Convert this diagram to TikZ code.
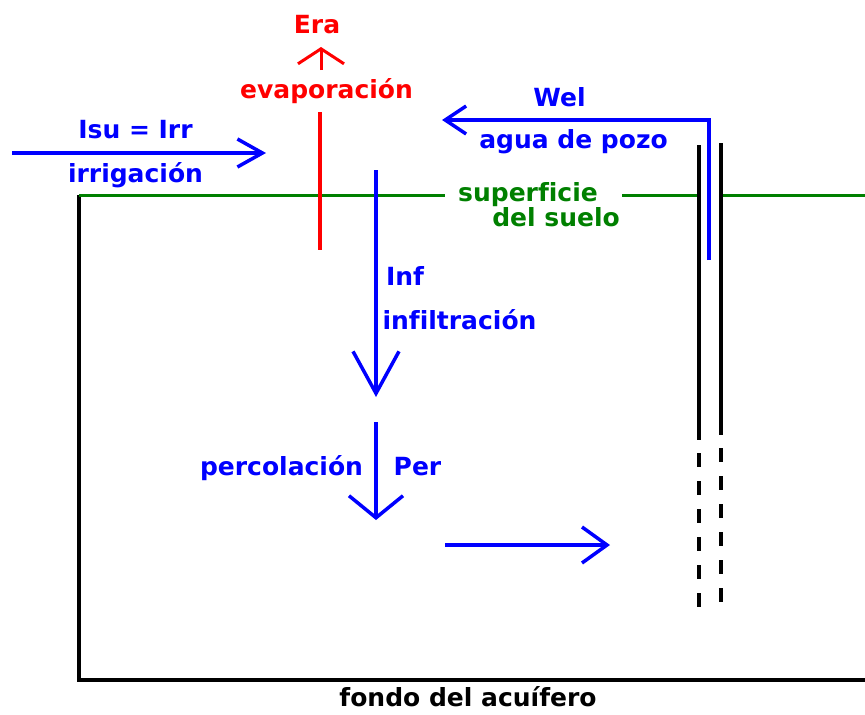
\documentclass[tikz,border=0pt]{standalone}
\usepackage{fontspec}
\setmainfont{DejaVu Sans}[Ligatures=NoCommon]
\usetikzlibrary{arrows.meta}
\definecolor{pblue}{RGB}{0,0,255}
\definecolor{pred}{RGB}{255,0,0}
\definecolor{pgreen}{RGB}{0,128,0}
\tikzset{
  lbl/.style={font=\fontsize{25}{30}\selectfont\bfseries, inner sep=0pt, anchor=base},
  flow/.style={draw=pblue, line width=3.5pt},
  ground/.style={draw=black, line width=3.5pt},
  soil/.style={draw=pgreen, line width=3pt},
  casing/.style={draw=black, line width=4.5pt},
  casingdash/.style={draw=black, line width=4.5pt, dash pattern=on 14pt off 14pt},
}
\begin{document}
\begin{tikzpicture}[x=1pt,y=-1pt]
\useasboundingbox (0,0) rectangle (865,715);
% box of the aquifer
\coordinate (bTL) at (79,195);
\coordinate (bBL) at (79,680);
\coordinate (bBR) at (865,680);
\draw[ground] (bTL) -- (bBL) -- (bBR);
% soil surface
\coordinate (g1) at (79,195);
\coordinate (g2) at (445,195);
\coordinate (g3) at (622,195);
\coordinate (g4) at (699,195);
\coordinate (g5) at (721,195);
\coordinate (g6) at (865,195);
\draw[soil] (g1) -- (g2) (g3) -- (g4) (g5) -- (g6);
% well casing
\coordinate (wL1) at (699,145);
\coordinate (wL2) at (699,440);
\coordinate (wL3) at (699,453);
\coordinate (wL4) at (699,609);
\coordinate (wR1) at (721,143);
\coordinate (wR2) at (721,435);
\coordinate (wR3) at (721,448);
\coordinate (wR4) at (721,607);
\draw[casing] (wL1) -- (wL2) (wR1) -- (wR2);
\draw[casingdash] (wL3) -- (wL4) (wR3) -- (wR4);
% well water
\coordinate (wel0) at (709,260);
\coordinate (wel1) at (709,120);
\coordinate (wel2) at (442,120);
\draw[flow, -{Straight Barb[length=21pt,width=28pt]}] (wel0) -- (wel1) -- (wel2);
% irrigation
\coordinate (irr0) at (12,153);
\coordinate (irr1) at (266,153);
\draw[flow, -{Straight Barb[length=25pt,width=28pt]}] (irr0) -- (irr1);
% evaporation
\coordinate (ev0) at (320,112);
\coordinate (ev1) at (320,250);
\draw[draw=pred, line width=3.5pt] (ev0) -- (ev1);
\coordinate (era0) at (321,70);
\coordinate (era1) at (321,47);
\draw[draw=pred, line width=3pt, -{Straight Barb[length=15pt,width=46pt]}] (era0) -- (era1);
% infiltration
\coordinate (inf0) at (376,170);
\coordinate (inf1) at (376,397);
\draw[flow, -{Straight Barb[length=42pt,width=46pt]}] (inf0) -- (inf1);
% percolation
\coordinate (per0) at (376,422);
\coordinate (per1) at (376,520);
\draw[flow, -{Straight Barb[length=22pt,width=54pt]}] (per0) -- (per1);
% lateral flow
\coordinate (lat0) at (445,545);
\coordinate (lat1) at (610,545);
\draw[flow, -{Straight Barb[length=25pt,width=36pt]}] (lat0) -- (lat1);
% labels
\node[lbl, text=pred] (tEra) at (317,33) {Era};
\node[lbl, text=pred] (tEvap) at (326.5,98.5) {evaporación};
\node[lbl, text=pblue] (tIsu) at (135.5,138) {Isu = Irr};
\node[lbl, text=pblue] (tIrr) at (135.5,182) {irrigación};
\node[lbl, text=pblue] (tWel) at (559.5,106) {Wel};
\node[lbl, text=pblue] (tPozo) at (573.5,148) {agua de pozo};
\node[lbl, text=pgreen] (tSup) at (528,201) {superficie};
\node[lbl, text=pgreen] (tSuelo) at (556,226.5) {del suelo};
\node[lbl, text=pblue] (tInf) at (405,285) {Inf};
\node[lbl, text=pblue] (tInfil) at (459.5,329) {infiltración};
\node[lbl, text=pblue] (tPerc) at (281.5,475) {percolación};
\node[lbl, text=pblue] (tPer) at (417.5,475) {Per};
\node[lbl, text=black] (tFondo) at (468,706) {fondo del acuífero};
\end{tikzpicture}
\end{document}
